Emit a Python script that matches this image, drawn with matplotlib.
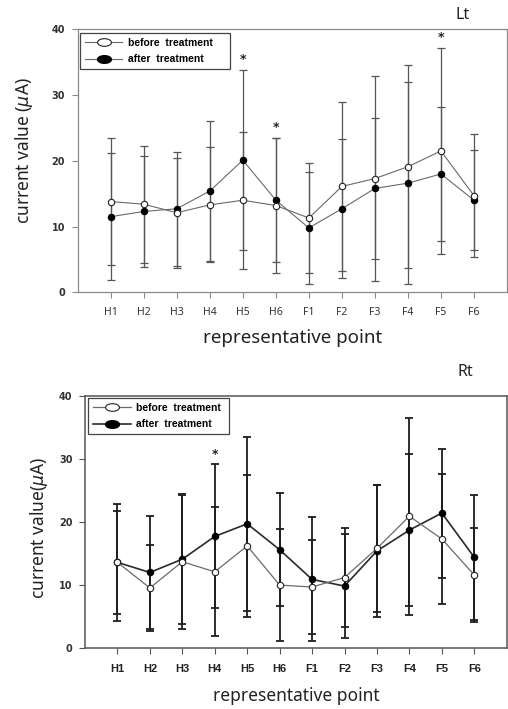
import matplotlib
matplotlib.use("Agg")
import matplotlib.pyplot as plt
from matplotlib.lines import Line2D
from matplotlib.path import Path
import numpy as np

points = ["H1", "H2", "H3", "H4", "H5", "H6", "F1", "F2", "F3", "F4", "F5", "F6"]

# Left (Lt)
lt_before = [13.8, 13.4, 12.1, 13.3, 14.0, 13.2, 11.3, 16.1, 17.3, 19.1, 21.5, 14.7]
lt_before_sd = [9.6, 8.9, 8.4, 8.75, 10.4, 10.3, 8.3, 12.9, 15.6, 15.4, 15.7, 9.3]
lt_after = [11.5, 12.3, 12.7, 15.4, 20.1, 14.0, 9.8, 12.7, 15.8, 16.6, 18.0, 14.0]
lt_after_sd = [9.65, 8.5, 8.7, 10.6, 13.7, 9.4, 8.5, 10.6, 10.7, 15.4, 10.2, 7.6]
lt_star = ["H5", "H6", "F5"]

# Right (Rt)
rt_before = [13.6, 9.55, 13.7, 12.1, 16.2, 10.0, 9.7, 11.2, 15.8, 20.9, 17.3, 11.6]
rt_before_sd = [9.3, 6.75, 10.6, 10.2, 11.2, 8.9, 7.5, 7.9, 10.1, 15.6, 10.3, 7.5]
rt_after = [13.6, 12.0, 14.1, 17.7, 19.7, 15.6, 10.9, 9.85, 15.4, 18.7, 21.4, 14.4]
rt_after_sd = [8.2, 9.0, 10.3, 11.4, 13.8, 8.9, 9.8, 8.2, 10.5, 12.0, 10.2, 9.9]
rt_star = ["H4"]

W, H = 508, 709
fig = plt.figure(figsize=(W / 100, H / 100), dpi=100)

_c = Path.unit_circle()
ellipse = Path(_c.vertices * np.array([1.0, 0.55]), _c.codes)


def panel(rect, before, bsd, after, asd, stars, ylabel, side, dark,
          ylab_xy, side_xy, leg_box, xlab_size, xlab_pad):
    ax = fig.add_axes(rect)
    x = np.arange(1, len(points) + 1)
    if dark:
        ecol, elw, cap = "#1e1e1e", 1.3, 3.0
        bcol, blw = "#6a6a6a", 0.9
        acol, alw = "#2a2a2a", 1.2
        spine_col = "#555555"
        tickprops = dict(fontsize=8, fontweight="bold", family="Liberation Sans",
                         color="#222222")
        xpad = 7
    else:
        ecol, elw, cap = "#555555", 0.9, 2.6
        bcol, blw = "#6a6a6a", 0.8
        acol, alw = "#6a6a6a", 0.8
        spine_col = "#8a8a8a"
        tickprops = dict(fontsize=7.5, fontweight="normal", family="Noto Sans",
                         color="#333333")
        xpad = 6.5
    ax.errorbar(x, before, yerr=bsd, fmt="none", ecolor=ecol, elinewidth=elw,
                capsize=cap, capthick=elw, zorder=2)
    ax.errorbar(x, after, yerr=asd, fmt="none", ecolor=ecol, elinewidth=elw,
                capsize=cap, capthick=elw, zorder=2)
    ax.plot(x, before, color=bcol, lw=blw, marker="o", ms=4.6, mfc="white",
            mec="#222222", mew=0.8, zorder=4)
    ax.plot(x, after, color=acol, lw=alw, marker="o", ms=4.6, mfc="black",
            mec="black", mew=0.8, zorder=3)
    for s in stars:
        i = points.index(s)
        top = max(before[i] + bsd[i], after[i] + asd[i])
        ax.text(x[i], top + 0.6, "*", ha="center", va="bottom", fontsize=9,
                fontweight="bold", color="#222222", family="DejaVu Sans")
    ax.set_xlim(0, 13)
    ax.set_ylim(0, 40)
    ax.set_xticks(x)
    ax.set_xticklabels(points, **tickprops)
    ax.set_yticks([0, 10, 20, 30, 40])
    ax.set_yticklabels(["0", "10", "20", "30", "40"], fontsize=7,
                       fontweight="bold", family="DejaVu Sans", color="#333333")
    ax.tick_params(axis="x", direction="out", length=4, width=0.8,
                   color=spine_col, pad=xpad)
    ax.tick_params(axis="y", direction="out", length=4, width=0.8,
                   color=spine_col, pad=5)
    for sp in ax.spines.values():
        sp.set_color(spine_col)
        sp.set_linewidth(0.9 if not dark else 1.1)
    ax.set_ylabel(ylabel, fontsize=12.5, family="Noto Sans", color="#222222")
    ax.yaxis.set_label_coords(*ylab_xy)
    ax.set_xlabel("representative point", fontsize=xlab_size, family="Noto Sans",
                  color="#222222", labelpad=xlab_pad)
    handles = [
        Line2D([], [], color=bcol, lw=blw, marker=ellipse, ms=10, mfc="white",
               mec="#222222", mew=0.8),
        Line2D([], [], color=acol, lw=alw, marker=ellipse, ms=10, mfc="black",
               mec="black"),
    ]
    leg = ax.legend(handles, ["before  treatment", "after  treatment"],
                    loc="upper left", bbox_to_anchor=leg_box, mode="expand",
                    borderaxespad=0, fancybox=False, framealpha=1,
                    edgecolor="#444444", handlelength=3.6, handletextpad=0.5,
                    borderpad=0.45, labelspacing=0.6,
                    prop={"family": "Liberation Sans", "weight": "bold",
                          "size": 7.5})
    leg.get_frame().set_linewidth(0.9)
    ax.text(side_xy[0], side_xy[1], side, transform=ax.transAxes, fontsize=11.5,
            family="Noto Sans", color="#222222", ha="center", va="center")
    return ax


panel([77.7 / W, 1 - 292.3 / H, (507 - 77.7) / W, (292.3 - 29.3) / H],
      lt_before, lt_before_sd, lt_after, lt_after_sd, lt_star,
      r"current value ($\mu$A)", "Lt", False,
      (-0.10, 0.537), (0.8975, 1.054), (0.006, 0.852, 0.349, 0.133), 13.5, 8)
panel([85 / W, 1 - 648.3 / H, (506.7 - 85) / W, (648.3 - 395.5) / H],
      rt_before, rt_before_sd, rt_after, rt_after_sd, rt_star,
      r"current value($\mu$A)", "Rt", True,
      (-0.083, 0.478), (0.901, 1.093), (0.008, 0.857, 0.334, 0.132), 12.5, 10)

fig.savefig("out.png", dpi=100)
